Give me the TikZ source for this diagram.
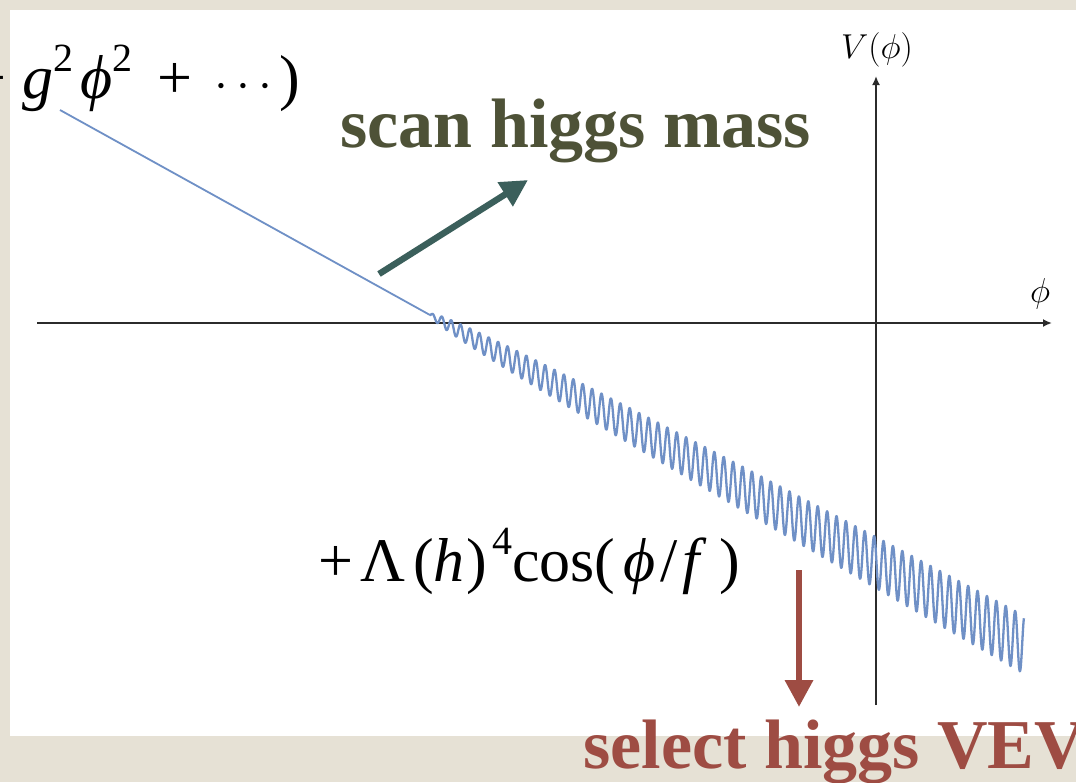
\documentclass[tikz,border=0pt]{standalone}
\usepackage{fontspec}
\setmainfont{Liberation Serif}
\usetikzlibrary{arrows.meta}
\definecolor{beige}{HTML}{E6E1D5}
\definecolor{axisgray}{HTML}{2B2B2B}
\definecolor{curveblue}{HTML}{6F90C6}
\definecolor{olive}{HTML}{4E5237}
\definecolor{teal}{HTML}{3B5F5B}
\definecolor{brick}{HTML}{9E4C43}
\newcommand\supr[1]{\raisebox{0.42em}{\fontsize{20}{22}\selectfont #1}}
\newcommand\vphi{\textit{\symbol{"03D5}}}
\tikzset{
  axis/.style={draw=axisgray, line width=1.1pt, -{Latex[length=4.5pt,width=4pt]}},
  curve/.style={draw=curveblue, line width=0.9pt, line join=round},
  wave/.style={draw=curveblue, line width=1.15pt, line join=round},
  bigbold/.style={font=\fontsize{35}{40}\selectfont\bfseries, inner sep=0pt},
  formula/.style={font=\fontsize{31}{36}\selectfont, inner sep=0pt, text=black},
  axlabel/.style={font=\fontsize{16}{19}\selectfont, inner sep=0pt},
  fatarrow/.style={line width=3.2pt, -{Triangle[length=13.5pt,width=13.5pt]}}
}
\begin{document}
\begin{tikzpicture}[x=0.5pt,y=-0.5pt]
\useasboundingbox (0,0) rectangle (1076,782);
\fill[beige] (0,0) rectangle (1076,782);
\fill[white] (10,10) rectangle (1076,736);
% axes
\coordinate (xs) at (37,323);
\coordinate (xe) at (1052,323);
\coordinate (ys) at (876,705);
\coordinate (ye) at (876,76);
\draw[axis] (xs) -- (xe);
\draw[axis] (ys) -- (ye);
\node[axlabel] (vlab) at (877,50) {$V(\phi)$};
\node[axlabel] (plab) at (1040,294) {$\phi$};
% potential curve
\draw[curve] (60,110) -- (430,315);
\draw[wave] (430,315) -- plot[domain=0.01:63.2, samples=2000]
  ({430+9.4*\x}, {315+5.217*\x - 29*((\x/62.77)^0.45)*sin(360*frac(\x))});
% formulas
\node[formula, anchor=base east] (topf) at (301,98)
  {+\hspace{0.25em}\textit{g}\supr{2}\hspace{0.12em}\vphi\supr{2}\hspace{0.4em}+\hspace{0.35em}$\cdots$\hspace{0.12em})};
\node[formula, anchor=base west] (cosf) at (318,581)
  {+\hspace{0.12em}Λ\hspace{0.12em}(\textit{h}\hspace{0.03em})\hspace{0.08em}\supr{4}cos(\hspace{0.12em}\vphi\hspace{0.08em}/\hspace{0.08em}\textit{f}\hspace{0.2em})};
% labels
\node[bigbold, text=olive, anchor=base west] (scan) at (340,147) {scan higgs mass};
\node[bigbold, text=brick, anchor=base west] (sel) at (583,768) {select higgs VEV};
% arrows
\coordinate (sa) at (379,274);
\coordinate (sb) at (528,180);
\draw[fatarrow, draw=teal, fill=teal] (sa) -- (sb);
\coordinate (ra) at (799,570);
\coordinate (rb) at (799,707);
\draw[fatarrow, draw=brick, fill=brick] (ra) -- (rb);
\end{tikzpicture}
\end{document}
